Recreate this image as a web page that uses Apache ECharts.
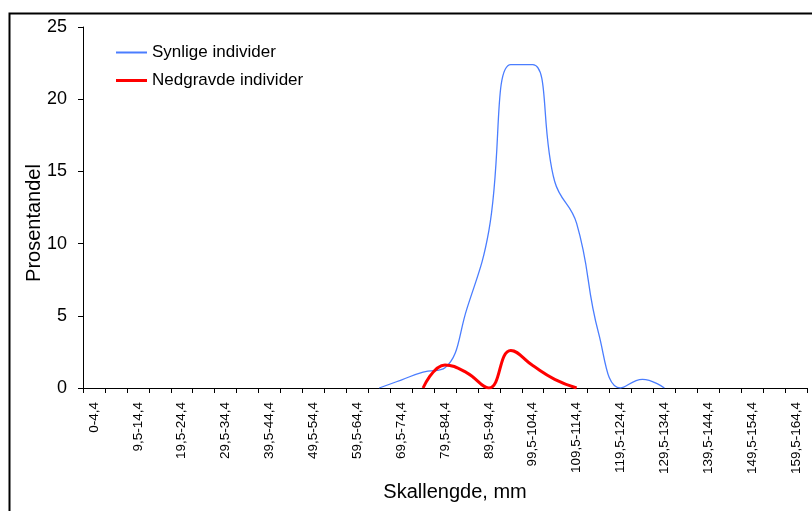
<!DOCTYPE html>
<html>
<head>
<meta charset="utf-8">
<script src="https://cdn.jsdelivr.net/npm/echarts@6/dist/echarts.min.js"></script>
<style>
  html, body { margin: 0; padding: 0; background: #fff; }
  #chart { width: 812px; height: 511px; }
</style>
</head>
<body>
<div id="chart"></div>
<script>
// size classes, 5 mm each: 0-4,4 ... 159,5-164,4
var categories = []
for (var k = 0; k < 33; k++) {
  var lo = k === 0 ? '0' : (5 * k - 1) + ',5'
  categories.push(lo + '-' + (5 * k + 4) + ',4')
}

// Prosentandel per size class
var synlige = [null, null, null, null, null, null, null, null, null, null, null, null, null,
  0, 0.55, 1.1, 1.4, 5.5, 10.9, 22.4, 22.4, 14.3, 11.4, 3.8, 0, 0.6, 0,
  null, null, null, null, null, null]
var nedgravde = [null, null, null, null, null, null, null, null, null, null, null, null, null,
  null, null, 0, 1.6, 1.05, 0, 2.6, 1.55, 0.6, 0,
  null, null, null, null, null, null, null, null, null, null]

var yTicks = { min: 0, max: 25, step: 5 }

var font = 'Liberation Sans, Arial, sans-serif'
var blue = '#4a7dff'
var red = '#ff0000'
var chart = echarts.init(document.getElementById('chart'))

function legendFor(name, top, h) {
  return {
    orient: 'vertical',
    left: 116,
    top: top,
    padding: 0,
    icon: 'rect',
    itemWidth: 31,
    itemHeight: h,
    textStyle: { fontFamily: font, fontSize: 17, color: '#000' },
    data: [name]
  }
}

var option = {
  animation: false,
  backgroundColor: '#fff',
  grid: { left: 83, right: 5, top: 27, bottom: 123 },
  legend: [
    legendFor('Synlige individer', 44, 2),
    legendFor('Nedgravde individer', 72, 3)
  ],
  xAxis: {
    type: 'category',
    data: categories,
    boundaryGap: true,
    axisLine: { lineStyle: { color: '#000', width: 1 } },
    axisTick: { show: true, interval: 0, length: 5, lineStyle: { color: '#000' } },
    axisLabel: {
      interval: 1,
      rotate: 90,
      margin: 14,
      fontFamily: font,
      fontSize: 13.5,
      color: '#000'
    },
    splitLine: { show: false }
  },
  yAxis: {
    type: 'value',
    min: yTicks.min,
    max: yTicks.max,
    interval: yTicks.step,
    axisLine: { show: true, lineStyle: { color: '#000', width: 1 } },
    axisTick: { show: true, length: 5, lineStyle: { color: '#000' } },
    axisLabel: { margin: 16, fontFamily: font, fontSize: 18, color: '#000' },
    splitLine: { show: false }
  },
  graphic: [
    {
      type: 'rect',
      left: 7,
      top: 11,
      shape: { width: 900, height: 600 },
      style: { fill: 'none', stroke: '#000', lineWidth: 2 },
      silent: true
    },
    {
      type: 'text',
      x: 34,
      y: 223,
      rotation: Math.PI / 2,
      style: {
        text: 'Prosentandel',
        fontFamily: font,
        fontSize: 20,
        fill: '#000',
        align: 'center',
        verticalAlign: 'middle'
      }
    },
    {
      type: 'text',
      x: 455,
      y: 492,
      style: {
        text: 'Skallengde, mm',
        fontFamily: font,
        fontSize: 20,
        fill: '#000',
        align: 'center',
        verticalAlign: 'middle'
      }
    }
  ],
  series: [
    {
      name: 'Synlige individer',
      type: 'line',
      data: synlige,
      smooth: 0.45,
      symbol: 'none',
      lineStyle: { color: blue, width: 1.3 },
      itemStyle: { color: blue }
    },
    {
      name: 'Nedgravde individer',
      type: 'line',
      data: nedgravde,
      smooth: 0.45,
      symbol: 'none',
      lineStyle: { color: red, width: 3 },
      itemStyle: { color: red }
    }
  ]
}

chart.setOption(option)
</script>
</body>
</html>
